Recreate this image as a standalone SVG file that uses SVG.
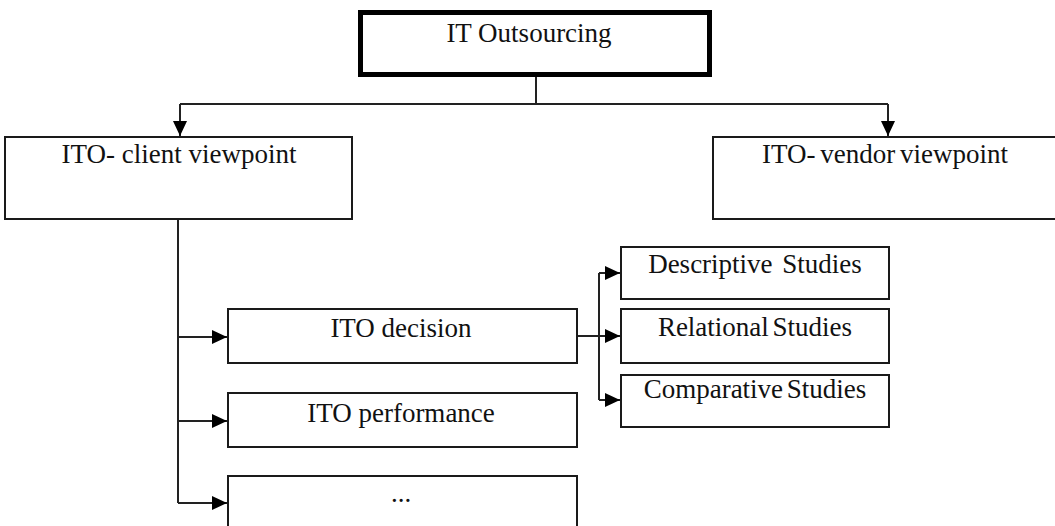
<svg xmlns="http://www.w3.org/2000/svg" width="1055" height="526" viewBox="0 0 1055 526">
<style>
.box{fill:#fff;stroke:#1a1a1a;stroke-width:2}
.main{fill:#fff;stroke:#000;stroke-width:5}
.ln{fill:none;stroke:#222;stroke-width:2}
text{font-family:"Liberation Serif","Times New Roman",serif;font-size:27px;fill:#111;text-anchor:middle}
</style>
<defs>
<marker id="ah" markerUnits="userSpaceOnUse" markerWidth="15" markerHeight="14" viewBox="0 0 15 14" refX="15" refY="7" orient="auto">
<path d="M0,0 L15,7 L0,14 Z" fill="#000"/>
</marker>
</defs>
<rect width="1055" height="526" fill="#fff"/>
<g id="connectors">
<path class="ln" d="M536,77 V104"/>
<path class="ln" d="M180,104 H888"/>
<path class="ln" d="M180,104 V136" marker-end="url(#ah)"/>
<path class="ln" d="M888,104 V136" marker-end="url(#ah)"/>
<path class="ln" d="M178,219 V503"/>
<path class="ln" d="M178,337 H227" marker-end="url(#ah)"/>
<path class="ln" d="M178,421 H227" marker-end="url(#ah)"/>
<path class="ln" d="M178,503 H227" marker-end="url(#ah)"/>
<path class="ln" d="M577,336 H620" marker-end="url(#ah)"/>
<path class="ln" d="M599,273 V400"/>
<path class="ln" d="M599,273 H620" marker-end="url(#ah)"/>
<path class="ln" d="M599,400 H620" marker-end="url(#ah)"/>
</g>
<g id="it-outsourcing">
<rect class="main" x="360.5" y="12.5" width="349" height="62"/>
<text x="529" y="42">IT Outsourcing</text>
</g>
<g id="client-viewpoint">
<rect class="box" x="5" y="137" width="347" height="82"/>
<text x="179" y="163">ITO- client viewpoint</text>
</g>
<g id="vendor-viewpoint">
<rect class="box" x="713" y="137" width="345" height="82"/>
<text x="885" y="163" word-spacing="-2">ITO- vendor viewpoint</text>
</g>
<g id="ito-decision">
<rect class="box" x="228" y="309" width="349" height="54"/>
<text x="401" y="337">ITO decision</text>
</g>
<g id="ito-performance">
<rect class="box" x="228" y="393" width="349" height="54"/>
<text x="401" y="422">ITO performance</text>
</g>
<g id="ito-more">
<rect class="box" x="228" y="476" width="349" height="60"/>
<text x="401" y="502">...</text>
</g>
<g id="descriptive">
<rect class="box" x="621" y="247" width="268" height="52"/>
<text x="755" y="273" word-spacing="3">Descriptive Studies</text>
</g>
<g id="relational">
<rect class="box" x="621" y="309" width="268" height="54"/>
<text x="755" y="336" word-spacing="-3">Relational Studies</text>
</g>
<g id="comparative">
<rect class="box" x="621" y="375" width="268" height="52"/>
<text x="755" y="398" word-spacing="-3">Comparative Studies</text>
</g>
</svg>
